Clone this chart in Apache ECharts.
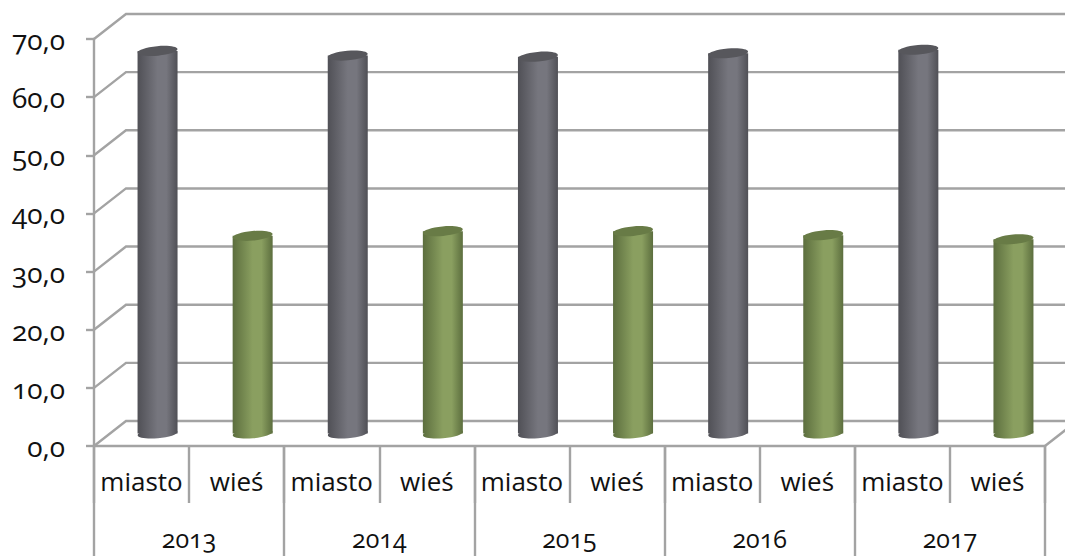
<!DOCTYPE html>
<html>
<head>
<meta charset="utf-8">
<style>
  html, body { margin: 0; padding: 0; background: #fff; }
  #chart { width: 1065px; height: 556px; }
  #chart svg text { font-feature-settings: "onum" 1; font-variant-numeric: oldstyle-nums; }
</style>
<script src="https://cdn.jsdelivr.net/npm/echarts@6/dist/echarts.min.js"></script>
</head>
<body>
<div id="chart"></div>
<script>
const years = ["2013", "2014", "2015", "2016", "2017"];
const groups = ["miasto", "wieś", "miasto", "wieś", "miasto", "wieś", "miasto", "wieś", "miasto", "wieś"];
const miastoValues = [65.8, 65.0, 64.8, 65.4, 66.0];
const wiesValues = [34.0, 34.8, 34.8, 34.1, 33.4];
const yTicks = [0, 10, 20, 30, 40, 50, 60, 70];

// kolejno miasto, wies dla kazdego roku
let barValues = [];
miastoValues.forEach((item, i) => {
  barValues.push(item);
  barValues.push(wiesValues[i]);
});

const FONT = "Open Sans";
const LINE_COLOR = "#a3a3a3";
const DEPTH_X = 32;
const DEPTH_Y = 25;
const BAR_WIDTH = 40;
const CAP_RY = 4.8;
const CAP_TILT = 0.09;

function sideFill(edge, mid) {
  return {
    type: "linear", x: 0, y: 0, x2: 1, y2: 0,
    colorStops: [
      { offset: 0, color: edge },
      { offset: 0.5, color: mid },
      { offset: 0.72, color: mid },
      { offset: 1, color: edge },
    ],
  };
}
const barStyles = [
  { side: sideFill("#505056", "#76767e"), cap: "#57575c" },
  { side: sideFill("#5c6e3e", "#8a9f60"), cap: "#687b46" },
];

function renderWall(params, api) {
  let v = api.value(0);
  let sys = params.coordSys;
  let y = api.coord([0, v])[1];
  let left = sys.x;
  let right = sys.x + sys.width;
  let children = [{
    type: "polyline",
    shape: { points: [[left, y], [left + DEPTH_X, y - DEPTH_Y], [right + DEPTH_X, y - DEPTH_Y]] },
    style: { fill: "none", stroke: LINE_COLOR, lineWidth: 2.4 },
  }];
  if (v === 0) {
    children.push({
      type: "line",
      shape: { x1: right, y1: y, x2: right + DEPTH_X, y2: y - DEPTH_Y },
      style: { stroke: LINE_COLOR, lineWidth: 2.4 },
    });
  }
  return { type: "group", children: children };
}

function renderBar(params, api) {
  let idx = api.value(0);
  let base = api.coord([idx, 0]);
  let top = api.coord([idx, api.value(1)]);
  let cx = base[0] + DEPTH_X / 2;
  let baseY = base[1] - DEPTH_Y / 2;
  let topY = top[1] - DEPTH_Y / 2;
  let look = barStyles[idx % 2];
  let ellipse = (y, fill) => ({
    type: "ellipse",
    x: cx, y: y, rotation: CAP_TILT,
    shape: { cx: 0, cy: 0, rx: BAR_WIDTH / 2, ry: CAP_RY },
    style: { fill: fill },
  });
  return {
    type: "group",
    children: [
      ellipse(baseY, look.side),
      {
        type: "rect",
        shape: { x: cx - BAR_WIDTH / 2, y: topY, width: BAR_WIDTH, height: baseY - topY },
        style: { fill: look.side },
      },
      ellipse(topY, look.cap),
    ],
  };
}

let chart = echarts.init(document.getElementById("chart"), null, { renderer: "svg" });
chart.setOption({
  animation: false,
  backgroundColor: "#fff",
  grid: { left: 94, right: 20, top: 39, bottom: 110 },
  xAxis: [
    {
      type: "category",
      data: groups.map((g, i) => i + ""),
      position: "bottom",
      axisLine: { lineStyle: { color: LINE_COLOR, width: 2.4 } },
      axisTick: { show: true, length: 57, interval: 0, lineStyle: { color: LINE_COLOR, width: 2.4 } },
      axisLabel: {
        interval: 0,
        margin: 22,
        color: "#111",
        fontFamily: FONT,
        fontSize: 26,
        formatter: (value) => groups[+value],
      },
    },
    {
      type: "category",
      data: years,
      position: "bottom",
      axisLine: { show: false },
      axisTick: { show: true, length: 110, interval: 0, lineStyle: { color: LINE_COLOR, width: 2.4 } },
      axisLabel: {
        interval: 0,
        margin: 79,
        color: "#111",
        fontFamily: FONT,
        fontSize: 25,
      },
    },
  ],
  yAxis: {
    type: "value",
    min: 0,
    max: 70,
    interval: 10,
    axisLine: { show: true, lineStyle: { color: LINE_COLOR, width: 2.4 } },
    axisTick: { show: true, length: 8, lineStyle: { color: LINE_COLOR, width: 2.4 } },
    splitLine: { show: false },
    axisLabel: {
      margin: 29,
      color: "#111",
      fontFamily: FONT,
      fontSize: 28,
      padding: [2, 0, 0, 0],
      formatter: (v) => v.toFixed(1).replace(".", ","),
    },
  },
  series: [
    {
      type: "custom",
      silent: true,
      z: 1,
      renderItem: renderWall,
      encode: { y: 0 },
      data: yTicks.map((v) => [v]),
    },
    {
      type: "custom",
      silent: true,
      z: 2,
      renderItem: renderBar,
      encode: { x: 0, y: 1 },
      data: barValues.map((v, i) => [i, v]),
    },
  ],
});
</script>
</body>
</html>
